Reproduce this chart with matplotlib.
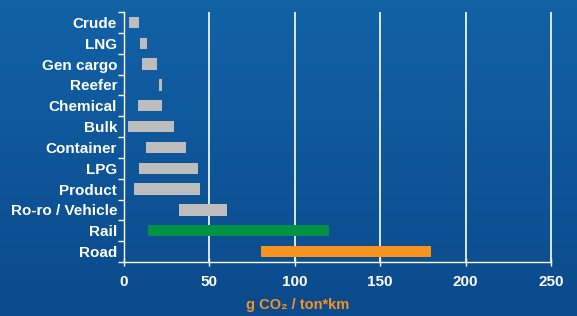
import numpy as np
import matplotlib
matplotlib.use('Agg')
import matplotlib.pyplot as plt
from matplotlib.colors import LinearSegmentedColormap

categories = ['Crude', 'LNG', 'Gen cargo', 'Reefer', 'Chemical', 'Bulk',
              'Container', 'LPG', 'Product', 'Ro-ro / Vehicle', 'Rail', 'Road']
low = [3, 9.5, 10.5, 20.5, 8, 2.5, 13, 9, 6, 32, 14, 80]
high = [9, 13.5, 19.5, 22.5, 22, 29.5, 36.5, 43.5, 44.5, 60.5, 120, 180]
colors = ['#bdbdbd'] * 10 + ['#009245', '#f7931e']
xticks = [0, 50, 100, 150, 200, 250]

plt.rcParams['font.family'] = ['Liberation Sans', 'DejaVu Sans']

fig = plt.figure(figsize=(5.77, 3.16), dpi=100)

# blue gradient background
bg = fig.add_axes([0, 0, 1, 1], zorder=-10)
grad = np.linspace(0, 1, 256).reshape(-1, 1)
cmap = LinearSegmentedColormap.from_list('bg', ['#1262a6', '#0b4a8c'])
bg.imshow(grad, aspect='auto', cmap=cmap, extent=[0, 1, 0, 1])
bg.axis('off')

# axes a touch wider than 0-250 so the last grid line sits inside it
xmax = 252
ax = fig.add_axes([124 / 577, 1 - 262 / 316, 427 * xmax / 250 / 577, 250 / 316])
ax.set_facecolor('none')

y = np.arange(len(categories))
widths = [h - l for l, h in zip(low, high)]
ax.barh(y, widths, left=low, height=0.55, color=colors, zorder=3)

ax.set_xlim(0, xmax)
ax.set_ylim(len(categories) - 0.5, -0.5)
ax.set_xticks(xticks)
ax.set_yticks(y)
ax.set_yticklabels(categories)
ax.set_yticks(np.arange(-0.5, len(categories)), minor=True)

ax.tick_params(axis='y', which='major', length=0, pad=5,
               labelsize=11, labelcolor='white')
ax.tick_params(axis='y', which='minor', length=4, width=1, color='white')
ax.tick_params(axis='x', which='major', length=6, width=1, color='white',
               direction='inout', labelsize=11, labelcolor='white', pad=6)
for lab in ax.get_xticklabels() + ax.get_yticklabels():
    lab.set_fontweight('bold')

ax.grid(axis='x', color='white', linewidth=1.2, zorder=1)
for s in ['top', 'right']:
    ax.spines[s].set_visible(False)
for s in ['left', 'bottom']:
    ax.spines[s].set_color('white')
    ax.spines[s].set_linewidth(1)
ax.spines['bottom'].set_bounds(0, 250)

fig.text(298 / 577, 1 - 305 / 316, 'g CO\u2082 / ton*km', color='#f7931e',
         fontsize=10.5, fontweight='bold', ha='center', va='center')

fig.savefig('out.png', dpi=100)
